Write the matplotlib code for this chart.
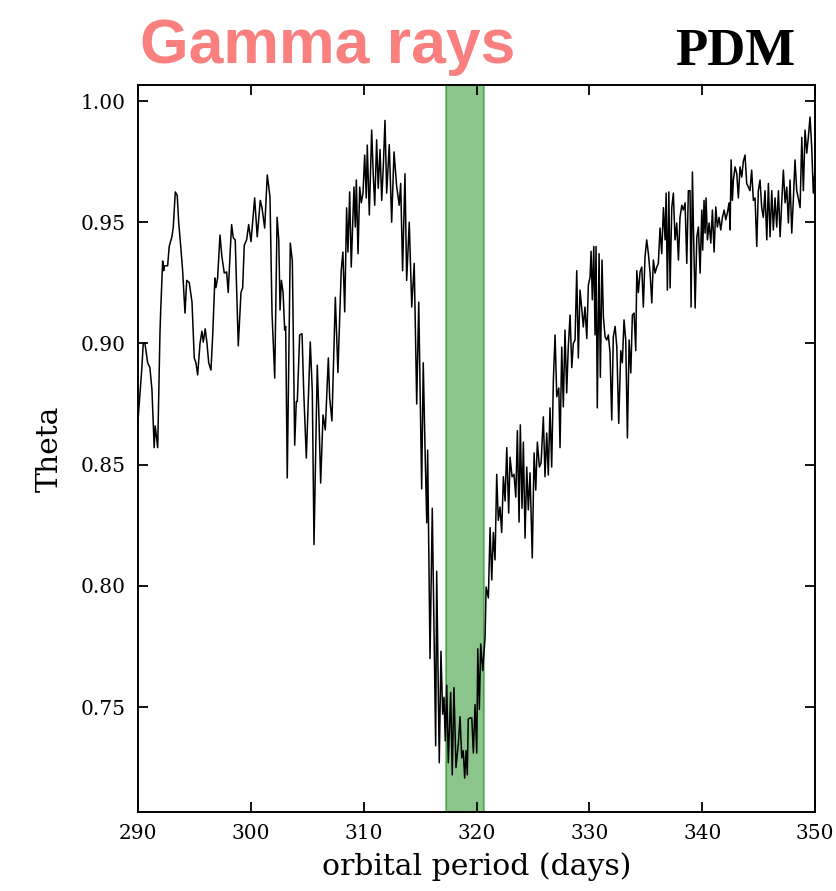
import matplotlib
matplotlib.use('Agg')
import matplotlib.pyplot as plt

# PDM theta statistic vs trial orbital period
period = [
    290.00, 290.35, 290.47, 290.62, 290.86, 291.06, 291.24, 291.44, 291.53, 291.75,
    291.95, 292.02, 292.19, 292.28, 292.33, 292.63, 292.77, 293.01, 293.13, 293.31,
    293.48, 293.61, 293.81, 293.96, 294.17, 294.32, 294.55, 294.79, 294.99, 295.14,
    295.29, 295.50, 295.67, 295.79, 295.96, 296.12, 296.27, 296.47, 296.62, 296.82,
    296.91, 297.06, 297.27, 297.44, 297.65, 297.86, 298.00, 298.18, 298.30, 298.45,
    298.62, 298.89, 299.13, 299.28, 299.42, 299.63, 299.81, 300.02,
    300.34, 300.57, 300.84, 300.99, 301.23, 301.46, 301.70, 301.88, 302.12, 302.33,
    302.48, 302.59, 302.71, 302.86, 303.00, 303.09, 303.23, 303.50, 303.68, 303.89,
    304.03, 304.12, 304.33, 304.54, 304.69, 304.92, 305.27, 305.45, 305.60, 305.89,
    306.02, 306.19, 306.40, 306.60, 306.75, 306.87, 306.99, 307.19, 307.49, 307.72,
    308.01, 308.16, 308.32, 308.49, 308.61, 308.76, 308.90, 309.14, 309.26, 309.35,
    309.50, 309.65, 309.79, 309.94, 310.09, 310.23, 310.32,
    310.50, 310.71, 310.85, 310.98, 311.15, 311.29, 311.45, 311.60, 311.74, 311.89,
    312.04, 312.27, 312.48, 312.69, 312.92, 313.15, 313.28, 313.45, 313.66, 313.81,
    314.04, 314.26, 314.48, 314.70, 314.88, 315.14, 315.28, 315.44, 315.59, 315.67,
    315.88, 316.08, 316.38, 316.47, 316.70, 316.85, 317.00, 317.12, 317.23, 317.36,
    317.50, 317.71, 317.85, 318.00, 318.18, 318.39, 318.54, 318.69, 318.82, 318.95,
    319.07, 319.18, 319.27, 319.42, 319.58, 319.72, 319.87, 320.02, 320.11, 320.25,
    320.37, 320.55, 320.76,
    320.85, 321.05, 321.20, 321.35, 321.49, 321.64, 321.79, 321.93, 322.08, 322.23,
    322.38, 322.53, 322.68, 322.85, 322.97, 323.15, 323.32, 323.48, 323.62, 323.77,
    323.88, 324.03, 324.15, 324.30, 324.45, 324.59, 324.74, 324.94, 325.10, 325.25,
    325.39, 325.57, 325.72, 325.92, 326.07, 326.22, 326.36, 326.51, 326.66, 326.81,
    326.96, 327.11, 327.29, 327.40, 327.55, 327.69, 327.84, 327.99, 328.13, 328.29,
    328.44, 328.58, 328.73, 328.88, 329.02, 329.17, 329.32, 329.46, 329.61, 329.77,
    329.91, 330.06, 330.15, 330.26, 330.39, 330.50, 330.59, 330.70, 330.86, 330.97,
    331.12, 331.24, 331.39, 331.54, 331.68, 331.83, 331.98, 332.12, 332.28, 332.43,
    332.60,
    332.78, 332.92, 333.07, 333.22, 333.37, 333.52, 333.67, 333.81, 333.96, 334.11,
    334.20, 334.34, 334.49, 334.64, 334.78, 334.93, 335.08, 335.23, 335.38, 335.53,
    335.67, 335.82, 335.97, 336.11, 336.26, 336.41, 336.56, 336.71, 336.80, 336.91,
    337.04, 337.15, 337.30, 337.44, 337.59, 337.74, 337.89, 338.03, 338.19, 338.33,
    338.48, 338.63, 338.77, 338.92, 339.01, 339.13, 339.22, 339.37, 339.52, 339.66,
    339.81,
    339.96, 340.04, 340.16, 340.25, 340.34, 340.46, 340.61, 340.76, 340.90, 341.05,
    341.20, 341.34, 341.49, 341.64, 341.79, 341.94, 342.09, 342.23, 342.38, 342.47,
    342.56, 342.67, 342.76, 342.91, 343.06, 343.20, 343.35, 343.50, 343.64, 343.79,
    343.94, 344.09, 344.23, 344.38, 344.53, 344.68, 344.83, 344.97, 345.12, 345.27,
    345.41, 345.56, 345.72, 345.86, 346.01, 346.16, 346.30, 346.45, 346.60, 346.75,
    346.90, 347.05, 347.19, 347.34, 347.49, 347.63, 347.78, 347.93, 348.07, 348.22,
    348.37, 348.51, 348.67, 348.82, 348.96, 349.11, 349.26, 349.40, 349.55, 349.70,
    349.84, 350.00,
]

theta = [
    0.868, 0.890, 0.900, 0.900, 0.892, 0.890, 0.881, 0.857, 0.866, 0.857,
    0.904, 0.914, 0.934, 0.930, 0.932, 0.932, 0.940, 0.944, 0.948, 0.9625,
    0.961, 0.950, 0.939, 0.930, 0.9125, 0.926, 0.925, 0.917, 0.894, 0.892,
    0.887, 0.900, 0.905, 0.9005, 0.906, 0.900, 0.892, 0.889, 0.903, 0.927,
    0.923, 0.927, 0.9447, 0.9357, 0.929, 0.9295, 0.921, 0.9385, 0.949, 0.9435,
    0.9427, 0.899, 0.921, 0.923, 0.9405, 0.9427, 0.949, 0.942,
    0.960, 0.944, 0.959, 0.956, 0.9476, 0.9695, 0.9604, 0.9125, 0.8857, 0.952,
    0.9427, 0.9138, 0.926, 0.921, 0.9055, 0.907, 0.8445, 0.9414, 0.934, 0.858,
    0.876, 0.876, 0.9035, 0.904, 0.880, 0.8527, 0.9006, 0.880, 0.817, 0.891,
    0.8725, 0.8424, 0.8705, 0.8643, 0.881, 0.894, 0.8775, 0.868, 0.919, 0.888,
    0.930, 0.9377, 0.913, 0.9559, 0.9377, 0.9625, 0.9315, 0.9645, 0.948, 0.9674,
    0.937, 0.9645, 0.958, 0.962, 0.9777, 0.960, 0.9818,
    0.953, 0.988, 0.9695, 0.957, 0.984, 0.964, 0.980, 0.959, 0.973, 0.992,
    0.962, 0.982, 0.950, 0.979, 0.965, 0.957, 0.966, 0.930, 0.970, 0.926,
    0.950, 0.915, 0.933, 0.875, 0.917, 0.840, 0.892, 0.856, 0.826, 0.856,
    0.770, 0.832, 0.734, 0.806, 0.727, 0.773, 0.747, 0.754, 0.736, 0.759,
    0.727, 0.756, 0.722, 0.758, 0.725, 0.735, 0.746, 0.729, 0.732, 0.7207,
    0.732, 0.722, 0.745, 0.7455, 0.7455, 0.731, 0.751, 0.731, 0.774, 0.749,
    0.776, 0.765, 0.779,
    0.7995, 0.795, 0.824, 0.8024, 0.822, 0.8107, 0.846, 0.827, 0.8325, 0.822,
    0.845, 0.835, 0.857, 0.830, 0.853, 0.845, 0.846, 0.8366, 0.864, 0.8263,
    0.8664, 0.832, 0.8593, 0.8197, 0.849, 0.8313, 0.8466, 0.8115, 0.8548, 0.8395,
    0.8593, 0.849, 0.8507, 0.8697, 0.845, 0.863, 0.8457, 0.8734, 0.849, 0.885,
    0.9035, 0.878, 0.8816, 0.857, 0.8985, 0.8738, 0.9055, 0.8796, 0.8985, 0.9117,
    0.890, 0.900, 0.9014, 0.930, 0.894, 0.922, 0.9146, 0.9068, 0.915, 0.902,
    0.924, 0.9274, 0.938, 0.918, 0.940, 0.9035, 0.940, 0.8734, 0.937, 0.886,
    0.9344, 0.911, 0.9027, 0.9014, 0.9035, 0.896, 0.8684, 0.9027, 0.907, 0.8985,
    0.867,
    0.897, 0.892, 0.9097, 0.9014, 0.861, 0.9014, 0.8878, 0.9117, 0.9125, 0.897,
    0.930, 0.921, 0.9295, 0.9315, 0.915, 0.9357, 0.9427, 0.937, 0.929, 0.9167,
    0.9344, 0.929, 0.9315, 0.933, 0.9476, 0.937, 0.956, 0.9427, 0.962, 0.922,
    0.9625, 0.9229, 0.956, 0.962, 0.9427, 0.9497, 0.9344, 0.952, 0.957, 0.955,
    0.958, 0.933, 0.963, 0.963, 0.915, 0.9707, 0.948, 0.9146, 0.944, 0.948,
    0.929,
    0.955, 0.9385, 0.959, 0.9455, 0.960, 0.9427, 0.9497, 0.9414, 0.955, 0.9377,
    0.9563, 0.948, 0.952, 0.9468, 0.952, 0.955, 0.951, 0.954, 0.958, 0.9468,
    0.9757, 0.959, 0.9674, 0.9728, 0.970, 0.960, 0.9728, 0.9686, 0.975, 0.9777,
    0.966, 0.9645, 0.963, 0.9715, 0.959, 0.960, 0.940, 0.963, 0.9674, 0.956,
    0.952, 0.963, 0.9427, 0.966, 0.944, 0.963, 0.9468, 0.960, 0.948, 0.963,
    0.944, 0.959, 0.9715, 0.958, 0.9645, 0.9497, 0.9674, 0.9455, 0.959, 0.9757,
    0.963, 0.960, 0.956, 0.985, 0.963, 0.988, 0.9785, 0.985, 0.9934, 0.981,
    0.962, 0.9728,
]

# gamma-ray period window
band = (317.3, 320.7)

plt.rcParams['font.family'] = 'DejaVu Serif'

fig = plt.figure(figsize=(8.36, 8.91), dpi=100)
ax = fig.add_axes([0.165, 0.0887, 0.81, 0.8159])

ax.axvspan(band[0], band[1], color='green', alpha=0.45, lw=1.5, zorder=1)
ax.plot(period, theta, color='black', lw=1.1, zorder=2)

ax.set_xlim(290, 350)
ax.set_ylim(0.7067, 1.0066)
ax.set_xticks([290, 300, 310, 320, 330, 340, 350])
ax.set_yticks([0.75, 0.80, 0.85, 0.90, 0.95, 1.00])
ax.set_yticklabels(['0.75', '0.80', '0.85', '0.90', '0.95', '1.00'])
ax.tick_params(direction='in', top=True, right=True, length=7, width=1.3,
               labelsize=14.5, pad=9)
for sp in ax.spines.values():
    sp.set_linewidth(1.4)

ax.set_xlabel('orbital period (days)', fontsize=21.5, labelpad=6)
ax.set_ylabel('Theta', fontsize=21.5, labelpad=12)

fig.text(0.1675, 0.929, 'Gamma rays', color='#fa8080', fontsize=45,
         fontweight='bold', family='Liberation Sans', ha='left', va='baseline')
fig.text(0.951, 0.927, 'PDM', color='black', fontsize=38,
         fontweight='bold', family='Liberation Serif', ha='right', va='baseline')

fig.savefig('out.png', dpi=100)
